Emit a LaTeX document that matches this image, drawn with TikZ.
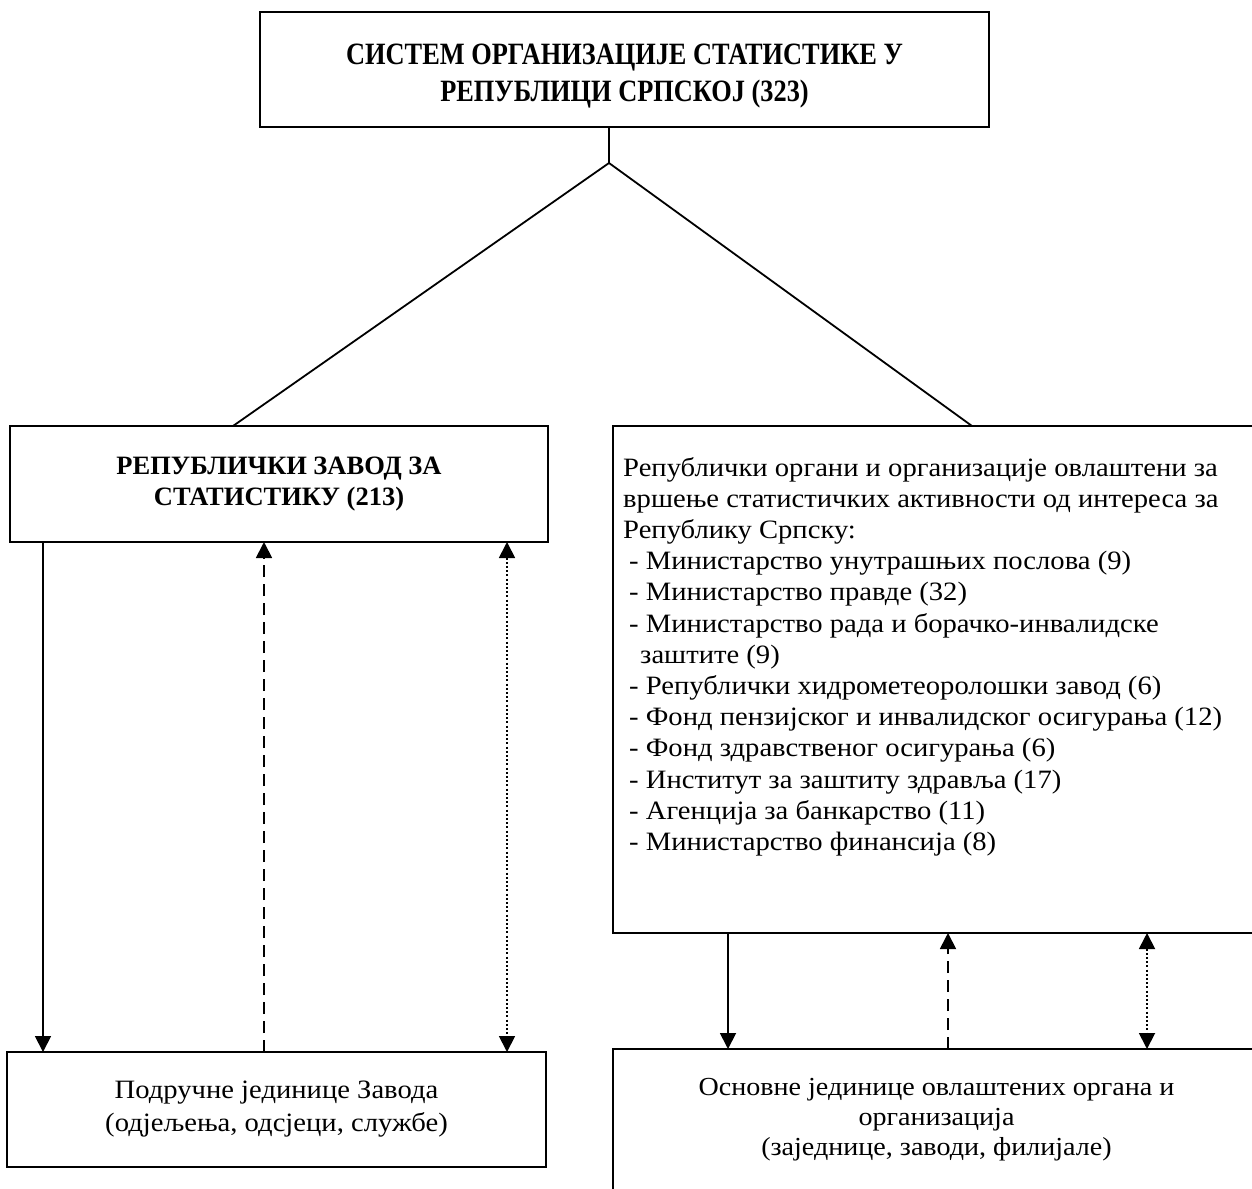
\documentclass[tikz,border=0pt]{standalone}
\usepackage{fontspec}
\setmainfont{Liberation Serif}
\newfontfamily\bodyfont[FakeStretch=1.08]{Liberation Serif}
\newfontfamily\capfont[FakeStretch=0.85]{Liberation Serif}
\usetikzlibrary{arrows.meta,calc}
\begin{document}
\begin{tikzpicture}[x=1pt,y=-1pt,
  box/.style={draw,line width=1.8pt,inner sep=0pt,outer sep=0pt,rectangle},
  conn/.style={line width=1.8pt},
  tipend/.style={-{Triangle[length=16pt,width=16pt]}},
  tipboth/.style={{Triangle[length=16pt,width=16pt]}-{Triangle[length=16pt,width=16pt]}},
  dashline/.style={dash pattern=on 12pt off 7pt},
  dotline/.style={dash pattern=on 2pt off 2.2pt},
  bodytext/.style={font=\bodyfont\fontsize{26.5}{31.2}\selectfont}
]
\useasboundingbox (0,0) rectangle (1252,1188);
\clip (0,0) rectangle (1252,1188);

\node[box, minimum width=729pt, minimum height=115pt, align=center,
      font=\capfont\bfseries\fontsize{31}{37}\selectfont] (top) at (624.5,69.5)
  {\rule{0pt}{33pt}СИСТЕМ ОРГАНИЗАЦИЈЕ СТАТИСТИКЕ У\\РЕПУБЛИЦИ СРПСКОЈ (323)};

\node[box, minimum width=538pt, minimum height=116pt, align=center,
      font=\bfseries\fontsize{26.5}{31}\selectfont] (zavod) at (279,484)
  {РЕПУБЛИЧКИ ЗАВОД ЗА\\СТАТИСТИКУ (213)};

\node[box, minimum width=647pt, minimum height=507pt] (organi) at (936.5,679.5) {};
\node[anchor=north west, inner sep=0pt, align=left, bodytext] (organitext) at (623,457)
  {Републички органи и организације овлаштени за\\
   вршење статистичких активности од интереса за\\
   Републику Српску:\\
   \hspace*{6pt}- Министарство унутрашњих послова (9)\\
   \hspace*{6pt}- Министарство правде (32)\\
   \hspace*{6pt}- Министарство рада и борачко-инвалидске\\
   \hspace*{17pt}заштите (9)\\
   \hspace*{6pt}- Републички хидрометеоролошки завод (6)\\
   \hspace*{6pt}- Фонд пензијског и инвалидског осигурања (12)\\
   \hspace*{6pt}- Фонд здравственог осигурања (6)\\
   \hspace*{6pt}- Институт за заштиту здравља (17)\\
   \hspace*{6pt}- Агенција за банкарство (11)\\
   \hspace*{6pt}- Министарство финансија (8)};

\node[box, minimum width=539pt, minimum height=115pt, align=center,
      font=\bodyfont\fontsize{26.5}{33}\selectfont] (podr) at (276.5,1109.5)
  {Подручне јединице Завода\\(одјељења, одсјеци, службе)};

\node[box, minimum width=647pt, minimum height=142pt, align=center,
      font=\bodyfont\fontsize{26}{30}\selectfont] (osn) at (936.5,1120)
  {Основне јединице овлаштених органа и\\организација\\(заједнице, заводи, филијале)};

% tree connectors
\coordinate (split) at (609,163);
\draw[conn] (split |- top.south) -- (split);
\draw[conn] (split) -- ($(zavod.north west)+(223,0)$);
\draw[conn] (split) -- ($(organi.north west)+(359,0)$);

% left arrows
\draw[conn,tipend] (43,0 |- zavod.south) -- (43,0 |- podr.north);
\draw[conn,dashline,tipend] (264,0 |- podr.north) -- (264,0 |- zavod.south);
\draw[conn,dotline,tipboth] (507,0 |- zavod.south) -- (507,0 |- podr.north);

% right arrows
\draw[conn,tipend] (728,0 |- organi.south) -- (728,0 |- osn.north);
\draw[conn,dashline,tipend] (948,0 |- osn.north) -- (948,0 |- organi.south);
\draw[conn,dotline,tipboth] (1147,0 |- organi.south) -- (1147,0 |- osn.north);
\end{tikzpicture}
\end{document}
